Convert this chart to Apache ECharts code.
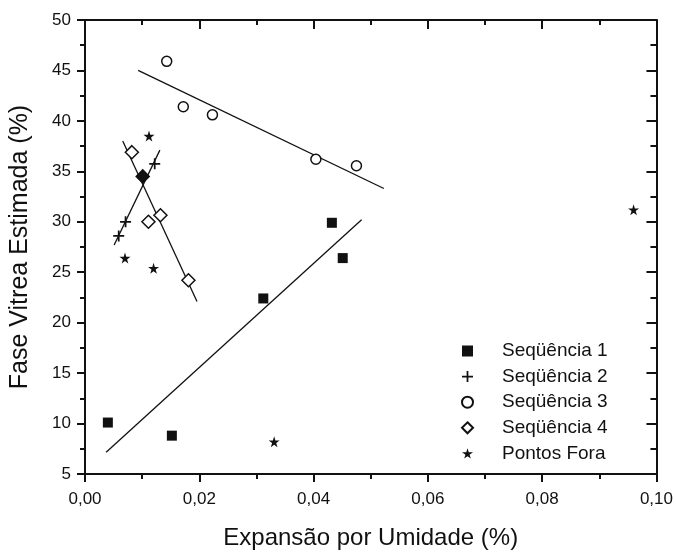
<!DOCTYPE html>
<html>
<head>
<meta charset="utf-8">
<script src="https://cdn.jsdelivr.net/npm/echarts@6/dist/echarts.min.js"></script>
<style>html,body{margin:0;padding:0;background:#fff}#c{width:676px;height:555px}</style>
</head>
<body>
<div id="c"></div>
<script>
// ---- data ----
const seriesNames = ['Seqüência 1', 'Seqüência 2', 'Seqüência 3', 'Seqüência 4', 'Pontos Fora'];
const seq1 = [[0.0040, 10.1], [0.0152, 8.8], [0.0312, 22.4], [0.0432, 29.9], [0.0451, 26.4]];
const seq2 = [[0.0059, 28.6], [0.0071, 30.0], [0.0101, 34.5], [0.0122, 35.75]];
const seq3 = [[0.0143, 45.9], [0.0172, 41.4], [0.0223, 40.6], [0.0404, 36.2], [0.0475, 35.55]];
const seq4 = [[0.0082, 36.9], [0.0101, 34.5], [0.0111, 30.0], [0.0132, 30.65], [0.0181, 24.2]];
const outliers = [[0.0112, 38.5], [0.0070, 26.4], [0.0120, 25.4], [0.0331, 8.2], [0.0960, 31.2]];
const fit1 = [[0.0037, 7.15], [0.0484, 30.2]];
const fit2 = [[0.0051, 27.7], [0.0131, 37.1]];
const fit3 = [[0.0093, 45.0], [0.0523, 33.3]];
const fit4 = [[0.0066, 38.0], [0.0196, 22.1]];
const xTitle = 'Expansão por Umidade (%)';
const yTitle = 'Fase Vitrea Estimada (%)';

const FONT = '"Liberation Sans", Arial, Helvetica, sans-serif';
const INK = '#111';
const STAR = 'path://M50,0 L61,35 L98,35 L68,57 L79,91 L50,70 L21,91 L32,57 L2,35 L39,35 Z';
const PLUS = 'path://M4.2,0 H5.8 V10 H4.2 Z M0,4.2 H10 V5.8 H0 Z';

const chart = echarts.init(document.getElementById('c'), null, {renderer: 'canvas'});

function axisBase(extra) {
  return Object.assign({
    axisLine: {show: true, onZero: false, lineStyle: {color: INK, width: 2}},
    splitLine: {show: false},
  }, extra);
}

const xMain = axisBase({
  type: 'value', position: 'bottom', min: 0, max: 0.1, interval: 0.02,
  name: xTitle, nameLocation: 'middle', nameGap: 52,
  nameTextStyle: {fontFamily: FONT, fontSize: 24, color: INK},
  axisTick: {show: true, inside: false, length: 8, lineStyle: {color: INK, width: 2}},
  minorTick: {show: true, splitNumber: 2, length: 5, lineStyle: {color: INK, width: 2}},
  axisLabel: {margin: 17, fontFamily: FONT, fontSize: 17, color: INK,
    formatter: v => v.toFixed(2).replace('.', ',')}
});
const xTop = axisBase({
  type: 'value', position: 'top', min: 0, max: 0.1, interval: 0.02,
  axisTick: {show: true, inside: true, length: 9, lineStyle: {color: INK, width: 2}},
  minorTick: {show: true, splitNumber: 2, length: 5, lineStyle: {color: INK, width: 2}},
  axisLabel: {show: false}
});
const yMain = axisBase({
  type: 'value', position: 'left', min: 5, max: 50, interval: 5,
  name: yTitle, nameLocation: 'middle', nameGap: 52, nameRotate: 90,
  nameTextStyle: {fontFamily: FONT, fontSize: 25, color: INK},
  axisTick: {show: true, inside: false, length: 8, lineStyle: {color: INK, width: 2}},
  minorTick: {show: true, splitNumber: 2, length: 5, lineStyle: {color: INK, width: 2}},
  axisLabel: {margin: 14, fontFamily: FONT, fontSize: 17, color: INK}
});
const yRight = axisBase({
  type: 'value', position: 'right', min: 5, max: 50, interval: 5,
  axisTick: {show: true, inside: true, length: 10, lineStyle: {color: INK, width: 2}},
  minorTick: {show: true, splitNumber: 2, length: 6, lineStyle: {color: INK, width: 2}},
  axisLabel: {show: false}
});

function scatter(name, data, symbol, size, itemStyle) {
  return {name, type: 'scatter', data, symbol, symbolSize: size,
    itemStyle: Object.assign({opacity: 1}, itemStyle),
    emphasis: {disabled: true},
    xAxisIndex: 0, yAxisIndex: 0, z: 3};
}
function fitLine(data) {
  return {type: 'line', data, symbol: 'none', silent: true,
    lineStyle: {color: INK, width: 1.3}, xAxisIndex: 0, yAxisIndex: 0, z: 2};
}

// a Seqüência 4 point that coincides with a Seqüência 2 point is drawn filled
const seq4Items = seq4.map(p => {
  const shared = seq2.some(q => q[0] === p[0] && q[1] === p[1]);
  return shared ? {value: p, itemStyle: {color: INK}} : {value: p};
});

const option = {
  animation: false,
  backgroundColor: '#fff',
  grid: {left: 85, right: 17, top: 20, bottom: 73, containLabel: false},
  xAxis: [xMain, xTop],
  yAxis: [yMain, yRight],
  legend: {
    orient: 'vertical', left: 456, top: 336,
    data: seriesNames,
    itemWidth: 11, itemHeight: 11, itemGap: 5.6,
    textStyle: {fontFamily: FONT, fontSize: 19, color: INK, lineHeight: 20, padding: [0, 0, 0, 24]},
    selectedMode: false
  },
  series: [
    scatter(seriesNames[0], seq1, 'rect', 10, {color: INK}),
    scatter(seriesNames[1], seq2, PLUS, 11, {color: INK}),
    scatter(seriesNames[2], seq3, 'circle', 10, {color: '#fff', borderColor: INK, borderWidth: 1.5}),
    scatter(seriesNames[3], seq4Items, 'diamond', 13, {color: '#fff', borderColor: INK, borderWidth: 1.5}),
    scatter(seriesNames[4], outliers, STAR, 11, {color: INK}),
    fitLine(fit1), fitLine(fit2), fitLine(fit3), fitLine(fit4)
  ]
};
chart.setOption(option);
</script>
</body>
</html>
